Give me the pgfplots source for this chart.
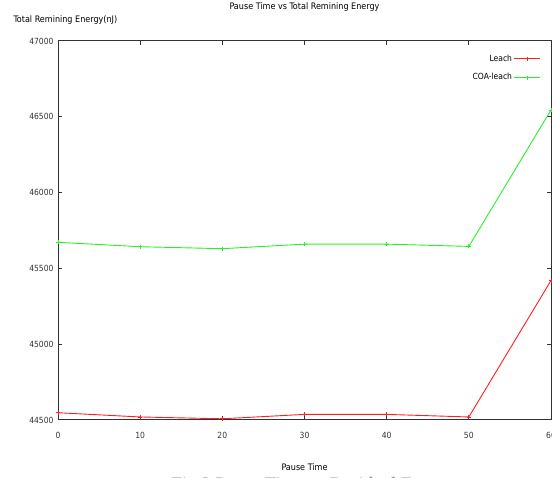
\documentclass[border=0pt]{standalone}
\usepackage{pgfplots}
\pgfplotsset{compat=1.18}
\usepackage{fontspec}
\setmainfont{DejaVu Sans Condensed}
\newfontfamily\capfont{Liberation Serif}

\definecolor{gpred}{RGB}{255,30,30}
\definecolor{gpgreen}{RGB}{40,240,40}
\definecolor{gpaxis}{RGB}{50,50,50}

\begin{document}
\begin{tikzpicture}[x=1bp,y=1bp]
\useasboundingbox (0,0) rectangle (552,478);
\begin{axis}[
    at={(58bp,58bp)}, anchor=south west,
    scale only axis,
    width=493bp, height=379bp,
    xmin=0, xmax=60, ymin=44500, ymax=47000,
    xtick={0,10,...,60},
    ytick={44500,45000,...,47000},
    scaled y ticks=false,
    tick align=inside,
    tick pos=both,
    major tick length=4bp,
    axis line style={gpaxis, line width=1bp},
    tick style={gpaxis, line width=1bp},
    /pgf/number format/assume math mode=true,
    /pgf/number format/set thousands separator={},
    ticklabel style={font=\fontsize{8.5}{10}\selectfont, text=black!80},
    yticklabel style={xshift=-1bp},
    xticklabel style={yshift=-9bp},
    title={Pause Time vs Total Remining Energy},
    title style={font=\fontsize{9}{11}\selectfont, at={(axis description cs:0.5,1)}, anchor=center, yshift=28bp},
    xlabel={Pause Time},
    xlabel style={font=\fontsize{9}{11}\selectfont, at={(axis description cs:0.5,0)}, anchor=center, yshift=-47bp},
    legend style={draw=none, fill=none, font=\fontsize{8.5}{10}\selectfont,
        at={(0.985,0.975)}, anchor=north east, row sep=7bp},
    legend cell align=right,
    legend plot pos=right,
    legend image post style={xscale=1.5},
]
\addplot[gpred, line width=0.9bp, mark=+, mark size=2bp, mark options={line width=0.7bp}]
    coordinates {(0,44548) (10,44520) (20,44508) (30,44537) (40,44537) (50,44520) (60,45420)};
\addlegendentry{Leach}
\addplot[gpgreen, line width=0.9bp, mark=+, mark size=2bp, mark options={line width=0.7bp}]
    coordinates {(0,45672) (10,45643) (20,45630) (30,45660) (40,45660) (50,45645) (60,46545)};
\addlegendentry{COA-leach}
\end{axis}
\node[anchor=west, font=\fontsize{9}{11}\selectfont] at (10,458) {Total Remining Energy(nJ)};
\node[anchor=base west, font=\capfont\fontsize{19}{22}\selectfont, text=black!55] at (168,-13) {Fig.3 Pause Time vs Residual Energy};
\end{tikzpicture}
\end{document}
